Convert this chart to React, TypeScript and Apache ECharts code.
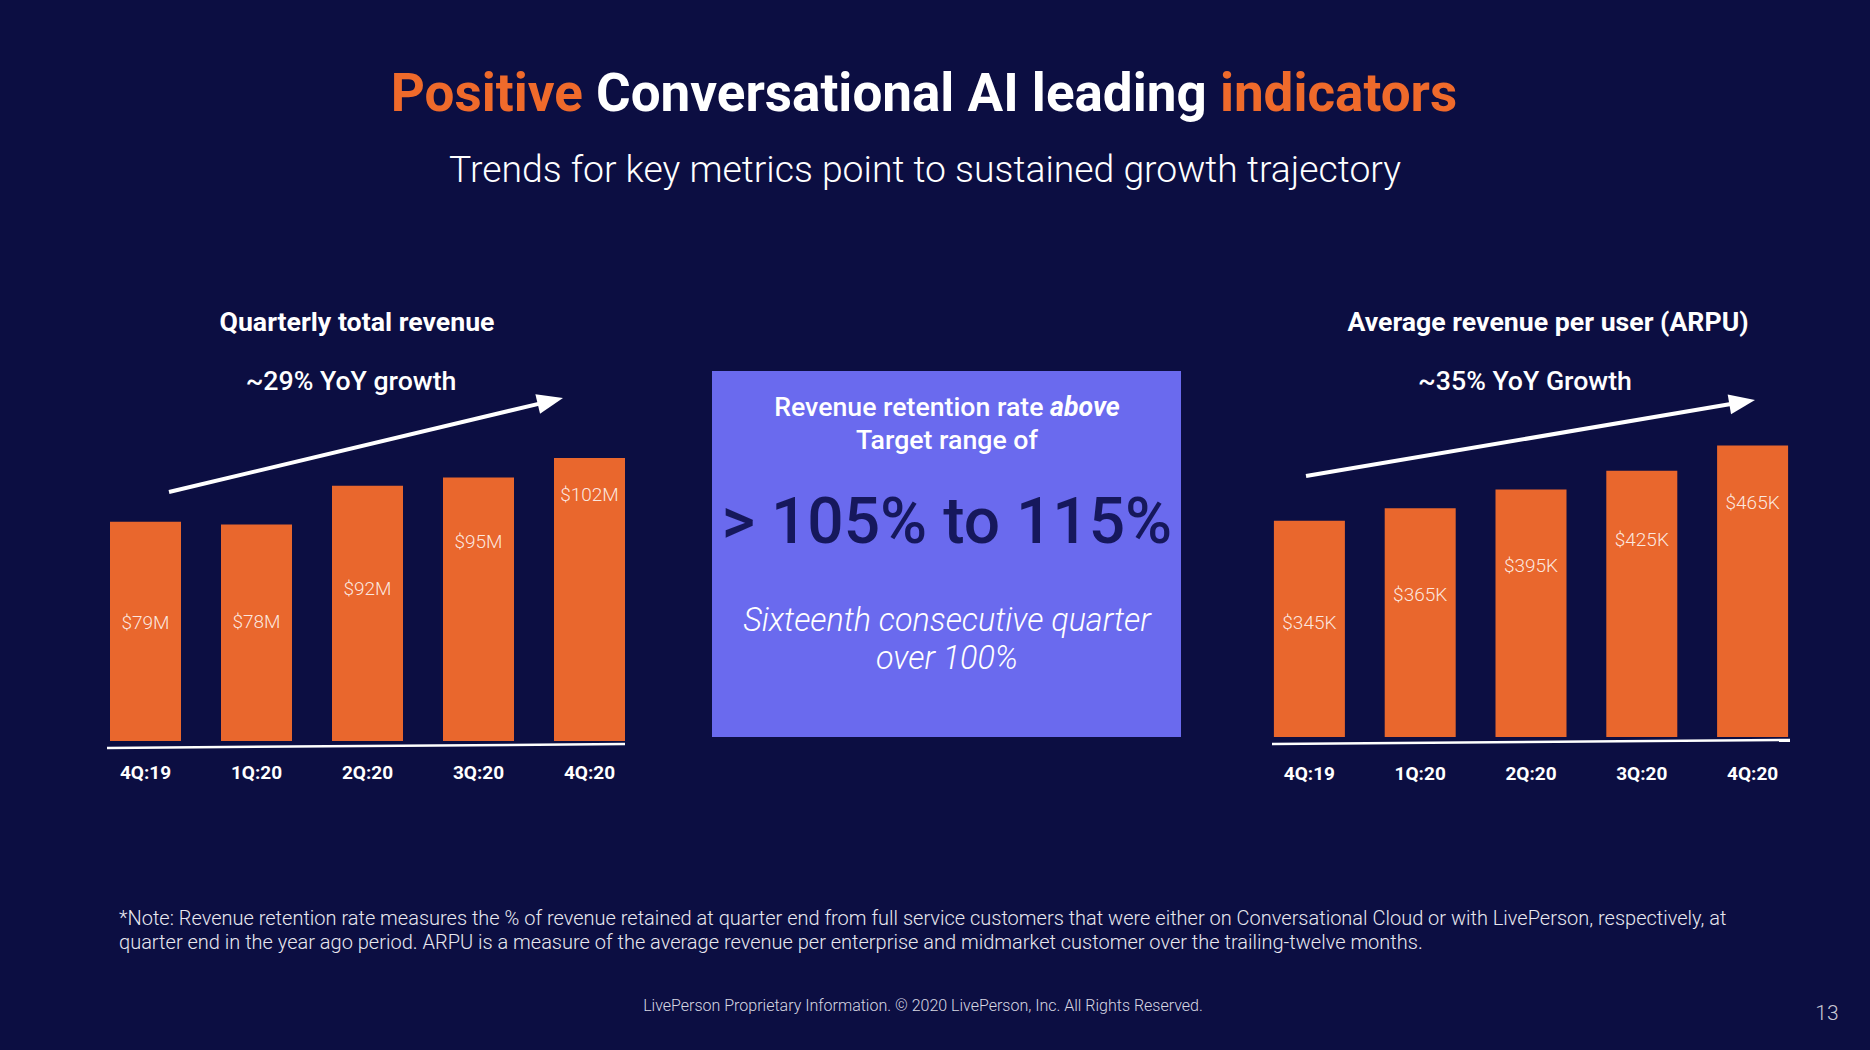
import React, { useEffect, useRef } from 'react';
import * as echarts from 'echarts';

// ---------- data ----------
const quarters = ['4Q:19', '1Q:20', '2Q:20', '3Q:20', '4Q:20'];
const revenueM = [79, 78, 92, 95, 102];
const arpuK = [345, 365, 395, 425, 465];

// ---------- layout (label drop from bar top, px) ----------
const revenueLabelDrop = [91, 87, 93, 54, 27];
const arpuLabelDrop = [92, 76, 66, 59, 47];

const FONT = 'Roboto, "Noto Sans", sans-serif';
const BG = '#0c0e42';
const ORANGE = '#e9672d';
const TITLE_ORANGE = '#ef6a2b';
const BOX = '#6a6aee';
const DARK = '#16185c';
const HEAD = 26.7;

function arrow(x1: number, y1: number, x2: number, y2: number) {
  const headLen = 26;
  const headHalf = 10;
  const dx = x2 - x1;
  const dy = y2 - y1;
  const L = Math.hypot(dx, dy);
  const ux = dx / L;
  const uy = dy / L;
  const bx = x2 - ux * headLen;
  const by = y2 - uy * headLen;
  const px = -uy;
  const py = ux;
  return [
    {
      type: 'line',
      shape: { x1, y1, x2: bx + ux * 3, y2: by + uy * 3 },
      style: { stroke: '#ffffff', lineWidth: 4 },
    },
    {
      type: 'polygon',
      shape: {
        points: [
          [x2, y2],
          [bx + px * headHalf, by + py * headHalf],
          [bx - px * headHalf, by - py * headHalf],
        ],
      },
      style: { fill: '#ffffff' },
    },
  ];
}

function txt(
  text: string,
  x: number,
  y: number,
  fontSize: number,
  fontWeight: any,
  fill: string,
  extra: any = {}
) {
  return {
    type: 'text',
    x,
    y,
    style: {
      text,
      fill,
      fontSize,
      fontWeight,
      fontFamily: FONT,
      align: 'center',
      verticalAlign: 'middle',
      ...extra,
    },
  };
}

export default function App() {
  const ref = useRef<HTMLDivElement>(null);

  useEffect(() => {
    document.body.style.margin = '0';
    document.body.style.background = BG;
    const chart = echarts.init(ref.current!, undefined, { renderer: 'svg' });

    const labelStyle = {
      show: true,
      position: 'insideTop',
      color: 'rgba(255,255,255,0.86)',
      fontSize: 19,
      fontWeight: 300,
      fontFamily: FONT,
      lineHeight: 20,
    };

    const axisLabelStyle = {
      color: '#ffffff',
      fontSize: 19,
      fontWeight: 'bold',
      fontFamily: FONT,
      lineHeight: 19,
    };

    const option: any = {
      animation: false,
      backgroundColor: BG,
      grid: [
        { left: 90, width: 555, top: 408, height: 333 },
        { left: 1254, width: 554, top: 361, height: 376 },
      ],
      xAxis: [
        {
          type: 'category',
          gridIndex: 0,
          data: quarters,
          axisLine: { show: false },
          axisTick: { show: false },
          axisLabel: { ...axisLabelStyle, margin: 22 },
        },
        {
          type: 'category',
          gridIndex: 1,
          data: quarters,
          axisLine: { show: false },
          axisTick: { show: false },
          axisLabel: { ...axisLabelStyle, margin: 27 },
        },
      ],
      yAxis: [
        { type: 'value', gridIndex: 0, min: 0, max: 120, show: false, splitLine: { show: false } },
        { type: 'value', gridIndex: 1, min: 0, max: 600, show: false, splitLine: { show: false } },
      ],
      series: [
        {
          type: 'bar',
          xAxisIndex: 0,
          yAxisIndex: 0,
          barWidth: 71,
          itemStyle: { color: ORANGE },
          label: { ...labelStyle, formatter: (p: any) => '$' + p.value + 'M' },
          data: revenueM.map((v, i) => ({ value: v, label: { distance: revenueLabelDrop[i] } })),
        },
        {
          type: 'bar',
          xAxisIndex: 1,
          yAxisIndex: 1,
          barWidth: 71,
          itemStyle: { color: ORANGE },
          label: { ...labelStyle, formatter: (p: any) => '$' + p.value + 'K' },
          data: arpuK.map((v, i) => ({ value: v, label: { distance: arpuLabelDrop[i] } })),
        },
      ],
      graphic: [
        // Title
        {
          type: 'text',
          x: 924,
          y: 93,
          style: {
            text: '{o|Positive} {w|Conversational AI leading} {o|indicators}',
            fontSize: 53,
            fontWeight: 'bold',
            fontFamily: FONT,
            fill: '#ffffff',
            align: 'center',
            verticalAlign: 'middle',
            rich: {
              o: { fill: TITLE_ORANGE, fontSize: 53, fontWeight: 'bold', fontFamily: FONT },
              w: { fill: '#ffffff', fontSize: 53, fontWeight: 'bold', fontFamily: FONT },
            },
          },
        },
        txt('Trends for key metrics point to sustained growth trajectory', 925, 169, 37.3, 300, '#ffffff'),

        // Left chart header
        txt('Quarterly total revenue', 357, 322, HEAD, 'bold', '#ffffff'),
        txt('~29% YoY growth', 351, 381, HEAD, 500, '#ffffff'),
        ...arrow(169, 492, 563, 398),
        {
          type: 'line',
          shape: { x1: 107, y1: 748, x2: 625, y2: 744 },
          style: { stroke: '#ffffff', lineWidth: 2.5 },
        },

        // Right chart header
        txt('Average revenue per user (ARPU)', 1548, 322, HEAD, 'bold', '#ffffff'),
        txt('~35% YoY Growth', 1525, 381, HEAD, 500, '#ffffff'),
        ...arrow(1306, 476, 1755, 400),
        {
          type: 'line',
          shape: { x1: 1272, y1: 744, x2: 1790, y2: 740 },
          style: { stroke: '#ffffff', lineWidth: 2.5 },
        },

        // Center box
        {
          type: 'rect',
          shape: { x: 712, y: 371, width: 469, height: 366 },
          style: { fill: BOX },
        },
        {
          type: 'text',
          x: 947,
          y: 407,
          style: {
            text: '{n|Revenue retention rate }{i|above}',
            fill: '#ffffff',
            fontSize: HEAD,
            fontWeight: 500,
            fontFamily: FONT,
            align: 'center',
            verticalAlign: 'middle',
            rich: {
              n: { fill: '#ffffff', fontSize: HEAD, fontWeight: 500, fontFamily: FONT },
              i: { fill: '#ffffff', fontSize: HEAD, fontWeight: 'bold', fontStyle: 'italic', fontFamily: FONT },
            },
          },
        },
        txt('Target range of', 947, 440, HEAD, 500, '#ffffff'),
        txt('> 105% to 115%', 947, 521, 64, 500, DARK),
        txt('Sixteenth consecutive quarter', 947, 620, 32.3, 300, '#ffffff', { fontStyle: 'italic' }),
        txt('over 100%', 947, 658, 32.3, 300, '#ffffff', { fontStyle: 'italic' }),

        // Footnote
        {
          type: 'text',
          x: 119,
          y: 918,
          style: {
            text:
              '*Note: Revenue retention rate measures the % of revenue retained at quarter end from full service customers that were either on Conversational Cloud or with LivePerson, respectively, at',
            fill: '#e8e8f0',
            fontSize: 20,
            fontWeight: 300,
            fontFamily: FONT,
            align: 'left',
            verticalAlign: 'middle',
          },
        },
        {
          type: 'text',
          x: 119,
          y: 942,
          style: {
            text:
              'quarter end in the year ago period. ARPU is a measure of the average revenue per enterprise and midmarket customer over the trailing-twelve months.',
            fill: '#e8e8f0',
            fontSize: 20,
            fontWeight: 300,
            fontFamily: FONT,
            align: 'left',
            verticalAlign: 'middle',
          },
        },
        txt(
          'LivePerson Proprietary Information. © 2020 LivePerson, Inc. All Rights Reserved.',
          923,
          1005,
          16,
          300,
          '#d8d8e2'
        ),
        txt('13', 1827, 1013, 21, 300, '#c8c8d4'),
      ],
    };

    chart.setOption(option);
    return () => chart.dispose();
  }, []);

  return <div ref={ref} style={{ width: 1870, height: 1050 }} />;
}
